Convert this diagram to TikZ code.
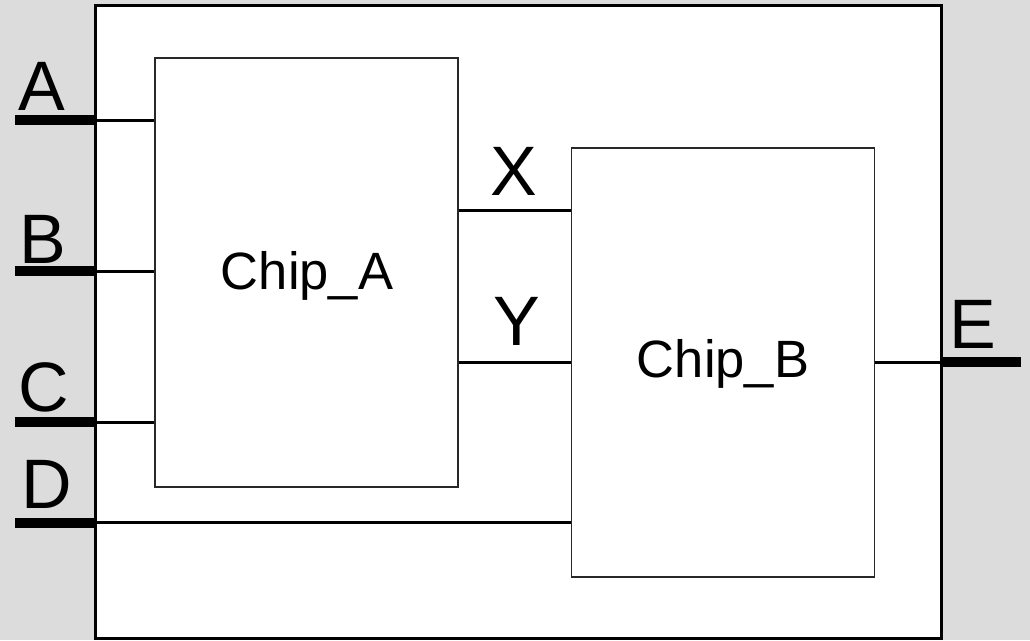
\documentclass[tikz,border=0pt]{standalone}
\usepackage{fontspec}
\setmainfont{Liberation Sans}
\definecolor{bggray}{RGB}{220,220,220}
\definecolor{chipgray}{RGB}{40,40,40}
\begin{document}
\begin{tikzpicture}[x=1pt,y=-1pt,
  outerbox/.style={draw=black, fill=white, line width=3pt, inner sep=0pt, rectangle},
  chipbox/.style={draw=chipgray, fill=white, line width=1.2pt, inner sep=0pt, rectangle,
    minimum width=303pt, minimum height=429pt},
  stub/.style={line width=10pt, draw=black},
  wire/.style={line width=3pt, draw=black},
  pinlabel/.style={font=\fontsize{70}{84}\selectfont, inner sep=0pt},
  chiplabel/.style={font=\fontsize{52.5}{62}\selectfont, inner sep=0pt, anchor=base}]
\useasboundingbox (0,0) rectangle (1030,640);
\fill[bggray] (0,0) rectangle (1030,640);
\node[outerbox, minimum width=846.5pt, minimum height=633pt] (outer) at (518.25,321.5) {};
\node[chipbox] (chipA) at (306.5,272.5) {};
\node[chipbox] (chipB) at (723,362.5) {};
\node[chiplabel] (labA) at (307,289) {Chip\_A};
\node[chiplabel] (labB) at (723,377.5) {Chip\_B};
% pin coordinates
\coordinate (pA) at (15,120);  \coordinate (bA) at (94.5,120);
\coordinate (pB) at (15,271);  \coordinate (bB) at (94.5,271);
\coordinate (pC) at (15,422);  \coordinate (bC) at (94.5,422);
\coordinate (pD) at (15,522.5);\coordinate (bD) at (94.5,522.5);
\coordinate (pE) at (1021,362);\coordinate (bE) at (941.5,362);
% stubs
\draw[stub] (pA) -- (bA);
\draw[stub] (pB) -- (bB);
\draw[stub] (pC) -- (bC);
\draw[stub] (pD) -- (bD);
\draw[stub] (pE) -- (bE);
% wires
\draw[wire] (bA) -- (bA -| chipA.west);
\draw[wire] (bB) -- (bB -| chipA.west);
\draw[wire] (bC) -- (bC -| chipA.west);
\draw[wire] (bD) -- (bD -| chipB.west);
\coordinate (xA) at (chipA.east |- 0,210);
\coordinate (yA) at (chipA.east |- 0,362);
\draw[wire] (xA) -- (xA -| chipB.west);
\draw[wire] (yA) -- (yA -| chipB.west);
\draw[wire] (chipB.east |- bE) -- (bE);
% labels
\node[pinlabel, anchor=base west] (lA) at (18.5,110) {A};
\node[pinlabel, anchor=base west] (lB) at (19.5,263) {B};
\node[pinlabel, anchor=base west] (lC) at (18.5,411) {C};
\node[pinlabel, anchor=base west] (lD) at (21,508) {D};
\node[pinlabel, anchor=base west] (lE) at (949.5,348) {E};
\node[pinlabel, anchor=base] (lX) at (513.5,195) {X};
\node[pinlabel, anchor=base] (lY) at (516.5,345) {Y};
\end{tikzpicture}
\end{document}
